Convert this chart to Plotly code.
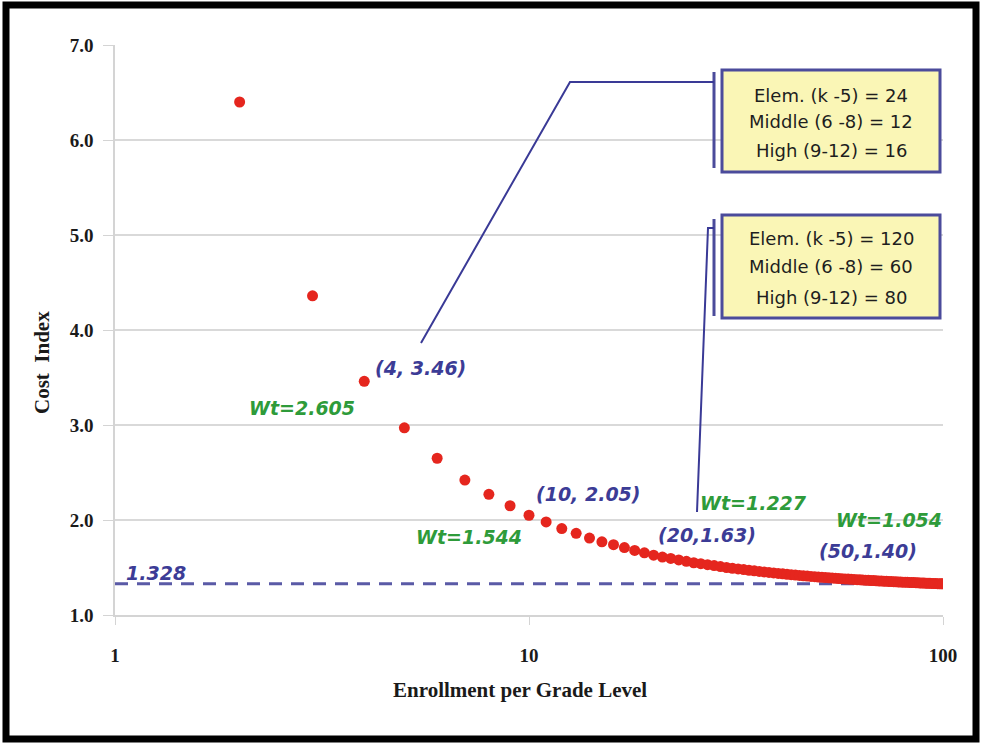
import plotly.graph_objects as go

# ---------------- data ----------------
enrollment = list(range(2, 101))
cost_index = [6.40, 4.36, 3.46, 2.97, 2.65, 2.42, 2.27, 2.15, 2.05,                 # 2-10
              1.98, 1.91, 1.86, 1.81, 1.77, 1.74, 1.71, 1.68, 1.655, 1.63,          # 11-20
              1.61, 1.595, 1.58, 1.565, 1.55, 1.54, 1.53, 1.52, 1.51, 1.50,         # 21-30
              1.492, 1.485, 1.478, 1.471, 1.465, 1.459, 1.453, 1.448, 1.443, 1.438, # 31-40
              1.433, 1.429, 1.425, 1.421, 1.417, 1.413, 1.410, 1.406, 1.403, 1.400, # 41-50
              1.397, 1.394, 1.392, 1.389, 1.387, 1.384, 1.382, 1.380, 1.378, 1.376, # 51-60
              1.374, 1.372, 1.370, 1.368, 1.367, 1.365, 1.363, 1.362, 1.360, 1.359, # 61-70
              1.357, 1.356, 1.355, 1.353, 1.352, 1.351, 1.350, 1.348, 1.347, 1.346, # 71-80
              1.345, 1.344, 1.343, 1.342, 1.341, 1.340, 1.339, 1.338, 1.337, 1.336, # 81-90
              1.335, 1.334, 1.333, 1.332, 1.332, 1.331, 1.330, 1.329, 1.329, 1.328] # 91-100
reference_value = 1.328
reference_x = [1, 100]

x_tick_vals = [1, 10, 100]
x_tick_text = ["1", "10", "100"]
y_tick_vals = [1, 2, 3, 4, 5, 6, 7]

point_labels = ["(4, 3.46)", "(10, 2.05)", "(20,1.63)", "(50,1.40)"]
weight_labels = ["Wt=2.605", "Wt=1.544", "Wt=1.227", "Wt=1.054"]
box1_lines = ["Elem. (k -5) = 24", "Middle (6 -8) = 12", "High (9-12) = 16"]
box2_lines = ["Elem. (k -5) = 120", "Middle (6 -8) = 60", "High (9-12) = 80"]

# ---------------- styles / layout geometry ----------------
W, H = 981, 745
L, R, T, B = 115, 38, 45, 130
PW, PH = W - L - R, H - T - B


def px(xp):
    return (xp - L) / PW


def py(yp):
    return (H - B - yp) / PH


BLUE = "#3C3C96"
GREEN = "#2E9B3A"
RED = "#E5261E"
LINE = "#3A3A96"

fig = go.Figure()
fig.add_trace(go.Scatter(
    x=reference_x, y=[reference_value, reference_value], mode="lines",
    line=dict(color="#5A5AA6", width=3, dash="13px,9px"),
    hoverinfo="skip", showlegend=False))
fig.add_trace(go.Scatter(
    x=enrollment, y=cost_index, mode="markers",
    marker=dict(color=RED, size=11, line=dict(width=0)),
    showlegend=False))

shapes = []
# outer black frame
shapes.append(dict(type="rect", xref="paper", yref="paper",
                   x0=px(6), x1=px(976), y0=py(739), y1=py(5),
                   line=dict(color="black", width=7), fillcolor="rgba(0,0,0,0)"))
# callout boxes
for (y0, y1) in [(70, 172), (215, 318)]:
    shapes.append(dict(type="rect", xref="paper", yref="paper",
                       x0=px(722), x1=px(940), y0=py(y1), y1=py(y0),
                       line=dict(color="#4B4B9B", width=3), fillcolor="#FAF6B6"))
# brackets beside boxes
for (y0, y1) in [(72, 168), (219, 316)]:
    shapes.append(dict(type="line", xref="paper", yref="paper",
                       x0=px(714), x1=px(714), y0=py(y1), y1=py(y0),
                       line=dict(color="#4B4B9B", width=3)))
# callout leader lines
shapes.append(dict(type="path", xref="paper", yref="paper",
                   path=f"M {px(421)},{py(343)} L {px(570)},{py(82)} L {px(714)},{py(82)}",
                   line=dict(color=LINE, width=2)))
shapes.append(dict(type="path", xref="paper", yref="paper",
                   path=f"M {px(697)},{py(512)} L {px(708)},{py(228)} L {px(714)},{py(228)}",
                   line=dict(color=LINE, width=2)))

annotations = []


def note(text, xp, yp, font, **kw):
    annotations.append(dict(text=text, x=px(xp), y=py(yp), xref="paper", yref="paper",
                            xanchor="center", yanchor="middle", showarrow=False,
                            font=font, **kw))


lab_font = dict(family="DejaVu Sans", size=19, weight="bold", style="italic")
point_pos = [(420, 368), (588, 494), (707, 535), (868, 551)]
weight_pos = [(302, 408), (469, 537), (753, 503), (889, 520)]
for t, (xp, yp) in zip(point_labels, point_pos):
    note(t, xp, yp, dict(lab_font, color=BLUE))
for t, (xp, yp) in zip(weight_labels, weight_pos):
    note(t, xp, yp, dict(lab_font, color=GREEN))
note(f"{reference_value:.3f}", 156, 573, dict(lab_font, color=BLUE))

box_font = dict(family="DejaVu Sans", size=18, color="#1e1e1e")
for lines, ys in [(box1_lines, [95, 122, 150]), (box2_lines, [238, 266, 297])]:
    for t, yp in zip(lines, ys):
        note(t, 831, yp, box_font)

title_font = dict(family="Liberation Serif", size=21, weight="bold", color="#1a1a1a")
note("Cost  Index", 42, 363, title_font, textangle=-90)
note("Enrollment per Grade Level", 520, 690, title_font)

tick_font = dict(family="Liberation Serif", size=19, weight="bold", color="#1a1a1a")
fig.update_layout(
    width=W, height=H,
    margin=dict(l=L, r=R, t=T, b=B, pad=0),
    paper_bgcolor="white", plot_bgcolor="white",
    shapes=shapes, annotations=annotations,
    xaxis=dict(type="log", range=[0, 2], tickvals=x_tick_vals, ticktext=x_tick_text,
               showgrid=False, zeroline=False, showline=True, linecolor="#D4D4D4",
               linewidth=1.5, ticks="outside", ticklen=8, tickcolor="#D4D4D4",
               ticklabelstandoff=14, tickfont=tick_font),
    yaxis=dict(range=[1, 7], tickvals=y_tick_vals, tickformat=".1f",
               showgrid=True, gridcolor="#D9D9D9", gridwidth=1.5, zeroline=False,
               showline=True, linecolor="#D4D4D4", linewidth=1.5,
               ticks="outside", ticklen=10, tickcolor="#D4D4D4",
               ticklabelstandoff=6, tickfont=tick_font),
)

fig.write_html("out.html")
